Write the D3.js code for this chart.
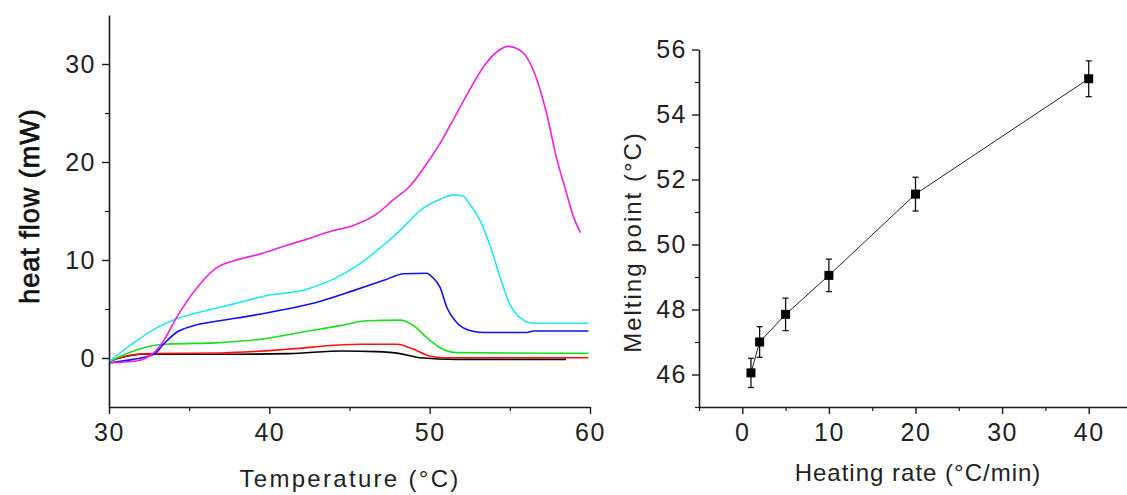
<!DOCTYPE html>
<html><head><meta charset="utf-8">
<script src="https://cdn.jsdelivr.net/npm/d3@7/dist/d3.min.js"></script>
<style>
html,body{margin:0;padding:0;background:#fff;}
svg{display:block;font-family:"Liberation Sans",Arial,sans-serif;}
</style></head><body>
<svg id="c" width="1127" height="495"></svg>
<script>
// ---- Left panel: DSC heat-flow curves ----
const magentaT = [30.06,31.7,32.8,33.4,34.2,35.5,36.7,37.75,39.4,41.1,42.3,44.0,45.2,46.7,47.7,48.8,49.8,50.65,51.5,52.3,53.35,54.2,54.9,55.4,56.05,56.7,57.3,57.9,58.55,58.97,59.4];
const magentaV = [-0.48,-0.3,0.54,1.74,4.1,7.2,9.2,9.9,10.6,11.5,12.1,13.0,13.5,14.7,16.1,17.6,19.8,21.9,24.4,26.8,29.7,31.25,31.8,31.6,30.7,28.35,24.9,20.5,16.75,14.4,12.8];
const cyanT = [30.06,31.7,33.0,34.4,35.7,37.75,39.8,42.3,44.0,45.45,46.7,48.15,49.4,50.65,51.5,52.1,52.5,53.15,53.8,54.4,55.0,55.65,56.5,59.9];
const cyanV = [-0.3,1.74,3.1,4.1,4.7,5.5,6.35,7.0,8.05,9.4,10.95,13.0,15.05,16.2,16.65,16.5,15.7,14.0,11.3,8.2,5.5,4.1,3.55,3.55];
const blueT = [30.06,31.5,32.8,33.4,34.2,35.26,36.9,38.8,41.1,43.2,45.2,47.1,48.4,49.8,50.2,50.65,51.07,51.7,52.5,53.35,56.05,56.5,59.9];
const blueV = [-0.48,-0.14,0.38,1.4,2.6,3.3,3.8,4.3,5.0,5.8,6.85,7.9,8.6,8.65,8.2,7.2,5.15,3.6,2.8,2.6,2.6,2.76,2.76];
const greenT = [30.06,31.5,32.55,33.6,36.9,39.4,41.9,44.4,46.1,48.15,49.0,49.8,50.65,51.7,59.9];
const greenV = [-0.3,0.7,1.2,1.4,1.57,1.9,2.6,3.3,3.8,3.86,3.3,2.1,1.05,0.55,0.48];
const redT = [30.06,31.7,32.8,36.9,41.1,44.4,45.6,47.95,49.0,50.0,50.85,59.9];
const redV = [-0.3,0.38,0.45,0.51,0.89,1.33,1.4,1.4,0.89,0.2,0.03,0.03];
const blackT = [30.06,32.0,36.9,41.2,44.6,46.7,48.15,49.4,51.7,58.5];
const blackV = [-0.3,0.38,0.38,0.45,0.72,0.65,0.45,0.03,-0.14,-0.14];
const leftXTicks = [30,40,50,60];
const leftYTicks = [0,10,20,30];

// ---- Right panel: melting point vs heating rate ----
const heatingRate = [1,2,5,10,20,40];
const meltingPoint = [46.05,47.0,47.85,49.05,51.55,55.1];
const meltingErr = [0.45,0.47,0.5,0.5,0.52,0.55];
const rightXTicks = [0,10,20,30,40];
const rightYTicks = [46,48,50,52,54,56];

const svg = d3.select("#c");
const AX = "#1a1a1a";

function styleAxis(g){
  g.select(".domain").attr("stroke",AX).attr("stroke-width",1.6);
  g.selectAll(".tick line").attr("stroke",AX).attr("stroke-width",1.4);
  g.selectAll(".tick text").attr("fill","#222").style("font-size","25px").style("letter-spacing","1.5px");
}

// Left scales
const lx = d3.scaleLinear().domain([30,60]).range([109,590]);
const ly = d3.scaleLinear().domain([-5,35]).range([407,15]);

const lxAxis = svg.append("g").attr("transform","translate(0,407)")
  .call(d3.axisBottom(lx).tickValues(leftXTicks).tickSize(7).tickSizeOuter(0).tickPadding(9).tickFormat(d3.format("d")));
styleAxis(lxAxis);
svg.append("g").attr("transform","translate(0,407)")
  .call(d3.axisBottom(lx).tickValues([35,45,55]).tickSize(4).tickFormat(""))
  .call(g=>{g.select(".domain").remove(); g.selectAll("line").attr("stroke",AX).attr("stroke-width",1.2);});
const lyAxis = svg.append("g").attr("transform","translate(109,0)")
  .call(d3.axisLeft(ly).tickValues(leftYTicks).tickSize(7).tickSizeOuter(0).tickPadding(6).tickFormat(d3.format("d")));
styleAxis(lyAxis);
svg.append("g").attr("transform","translate(109,0)")
  .call(d3.axisLeft(ly).tickValues([5,15,25]).tickSize(4).tickFormat(""))
  .call(g=>{g.select(".domain").remove(); g.selectAll("line").attr("stroke",AX).attr("stroke-width",1.2);});

const series = [
  {T:blackT,V:blackV,c:"#000000"},
  {T:redT,V:redV,c:"#ff1010"},
  {T:greenT,V:greenV,c:"#18e018"},
  {T:blueT,V:blueV,c:"#1010f0"},
  {T:cyanT,V:cyanV,c:"#20e8ee"},
  {T:magentaT,V:magentaV,c:"#f020e0"}
];
const line = d3.line().x(d=>lx(d[0])).y(d=>ly(d[1])).curve(d3.curveMonotoneX);
series.forEach(s=>{
  svg.append("path").datum(s.T.map((t,i)=>[t,s.V[i]]))
    .attr("d",line).attr("fill","none").attr("stroke",s.c).attr("stroke-width",1.6);
});

svg.append("text").attr("transform","translate(30,206) rotate(-90)")
  .attr("text-anchor","middle").attr("dominant-baseline","central")
  .style("font-size","27px").style("letter-spacing","1px")
  .attr("fill","#111").attr("stroke","#111").attr("stroke-width",0.7)
  .text("heat flow (mW)");
svg.append("text").attr("x",350).attr("y",487).attr("text-anchor","middle")
  .style("font-size","24px").style("letter-spacing","2.3px").attr("fill","#222")
  .text("Temperature (°C)");

// Right scales
const rx = d3.scaleLinear().domain([-5,45]).range([699,1132]);
const ry = d3.scaleLinear().domain([45,56]).range([407,49.5]);

const rxAxis = svg.append("g").attr("transform","translate(0,407)")
  .call(d3.axisBottom(rx).tickValues(rightXTicks).tickSize(7).tickSizeOuter(0).tickPadding(9).tickFormat(d3.format("d")));
styleAxis(rxAxis);
svg.append("g").attr("transform","translate(0,407)")
  .call(d3.axisBottom(rx).tickValues([-5,5,15,25,35]).tickSize(4).tickFormat(""))
  .call(g=>{g.select(".domain").remove(); g.selectAll("line").attr("stroke",AX).attr("stroke-width",1.2);});
const ryAxis = svg.append("g").attr("transform","translate(699,0)")
  .call(d3.axisLeft(ry).tickValues(rightYTicks).tickSize(7).tickSizeOuter(0).tickPadding(5).tickFormat(d3.format("d")));
styleAxis(ryAxis);
svg.append("g").attr("transform","translate(699,0)")
  .call(d3.axisLeft(ry).tickValues([45,47,49,51,53,55]).tickSize(4).tickFormat(""))
  .call(g=>{g.select(".domain").remove(); g.selectAll("line").attr("stroke",AX).attr("stroke-width",1.2);});

const pts = heatingRate.map((r,i)=>({x:r,y:meltingPoint[i],e:meltingErr[i]}));
svg.append("path").datum(pts)
  .attr("d",d3.line().x(d=>rx(d.x)).y(d=>ry(d.y)))
  .attr("fill","none").attr("stroke","#222").attr("stroke-width",1);
const eb = svg.append("g").attr("stroke","#111").attr("stroke-width",1.3);
pts.forEach(p=>{
  const cx = rx(p.x);
  eb.append("line").attr("x1",cx).attr("x2",cx).attr("y1",ry(p.y+p.e)).attr("y2",ry(p.y-p.e));
  eb.append("line").attr("x1",cx-3).attr("x2",cx+3).attr("y1",ry(p.y+p.e)).attr("y2",ry(p.y+p.e));
  eb.append("line").attr("x1",cx-3).attr("x2",cx+3).attr("y1",ry(p.y-p.e)).attr("y2",ry(p.y-p.e));
});
svg.append("g").selectAll("rect").data(pts).join("rect")
  .attr("x",d=>rx(d.x)-4.5).attr("y",d=>ry(d.y)-4.5).attr("width",9).attr("height",9).attr("fill","#000");

svg.append("text").attr("transform","translate(632,242) rotate(-90)")
  .attr("text-anchor","middle").attr("dominant-baseline","central")
  .style("font-size","24px").style("letter-spacing","2px").attr("fill","#222")
  .text("Melting point (°C)");
svg.append("text").attr("x",918).attr("y",481).attr("text-anchor","middle")
  .style("font-size","24px").style("letter-spacing","1px").attr("fill","#222")
  .text("Heating rate (°C/min)");
</script></body></html>
